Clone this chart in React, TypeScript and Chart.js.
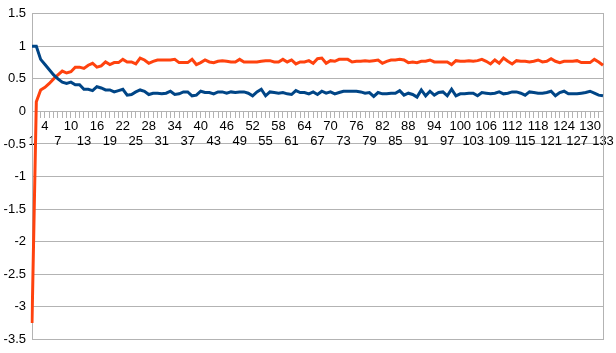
import React, { useEffect, useRef } from "react";
import { Chart, registerables } from "chart.js";

Chart.register(...registerables);

const categories: string[] = Array.from({ length: 133 }, (_, i) => String(i + 1));

const seriesBlue: number[] = [
  1.00, 1.00, 0.80, 0.72, 0.64, 0.56, 0.50, 0.45, 0.43, 0.45,
  0.41, 0.41, 0.34, 0.34, 0.32, 0.38, 0.36, 0.33, 0.33, 0.30,
  0.32, 0.34, 0.25, 0.26, 0.30, 0.33, 0.31, 0.26, 0.28, 0.28,
  0.27, 0.28, 0.31, 0.26, 0.27, 0.30, 0.30, 0.24, 0.25, 0.31,
  0.29, 0.29, 0.27, 0.30, 0.30, 0.28, 0.30, 0.29, 0.30, 0.30,
  0.28, 0.24, 0.30, 0.34, 0.24, 0.30, 0.29, 0.28, 0.29, 0.27,
  0.26, 0.32, 0.29, 0.29, 0.27, 0.30, 0.26, 0.31, 0.28, 0.30,
  0.27, 0.29, 0.31, 0.31, 0.31, 0.31, 0.30, 0.28, 0.29, 0.23,
  0.29, 0.27, 0.27, 0.28, 0.28, 0.32, 0.25, 0.28, 0.26, 0.22,
  0.33, 0.24, 0.31, 0.25, 0.29, 0.30, 0.24, 0.34, 0.24, 0.27,
  0.27, 0.28, 0.28, 0.24, 0.29, 0.28, 0.27, 0.28, 0.30, 0.27,
  0.28, 0.30, 0.30, 0.28, 0.25, 0.30, 0.29, 0.28, 0.28, 0.29,
  0.31, 0.24, 0.29, 0.31, 0.27, 0.27, 0.27, 0.28, 0.29, 0.31,
  0.28, 0.25, 0.24,
];

const seriesOrange: number[] = [
  -3.25, 0.15, 0.33, 0.37, 0.43, 0.50, 0.56, 0.62, 0.59, 0.61,
  0.68, 0.68, 0.66, 0.71, 0.74, 0.68, 0.70, 0.76, 0.72, 0.75,
  0.75, 0.80, 0.76, 0.76, 0.73, 0.82, 0.79, 0.74, 0.77, 0.79,
  0.79, 0.79, 0.79, 0.80, 0.75, 0.75, 0.75, 0.80, 0.72, 0.75,
  0.79, 0.76, 0.75, 0.77, 0.78, 0.77, 0.76, 0.76, 0.80, 0.76,
  0.76, 0.76, 0.76, 0.77, 0.78, 0.78, 0.76, 0.76, 0.80, 0.76,
  0.79, 0.73, 0.76, 0.76, 0.78, 0.74, 0.81, 0.82, 0.74, 0.78,
  0.77, 0.80, 0.80, 0.80, 0.76, 0.77, 0.77, 0.78, 0.77, 0.78,
  0.79, 0.74, 0.77, 0.79, 0.79, 0.80, 0.79, 0.75, 0.76, 0.75,
  0.77, 0.77, 0.79, 0.76, 0.76, 0.76, 0.76, 0.72, 0.78, 0.77,
  0.77, 0.78, 0.77, 0.78, 0.80, 0.77, 0.73, 0.79, 0.74, 0.82,
  0.77, 0.73, 0.78, 0.77, 0.77, 0.76, 0.77, 0.79, 0.76, 0.77,
  0.81, 0.77, 0.75, 0.77, 0.77, 0.77, 0.78, 0.75, 0.75, 0.75,
  0.80, 0.76, 0.71,
];

const yMin = -3.5;
const yMax = 1.5;
const yStep = 0.5;

const GRID = "#b3b3b3";
const FONT = { family: "'Liberation Sans', Arial, sans-serif", size: 13 };

export default function App() {
  const ref = useRef<HTMLCanvasElement | null>(null);

  useEffect(() => {
    document.body.style.margin = "0";
    const canvas = ref.current;
    if (!canvas) return;
    const chart = new Chart(canvas, {
      type: "line",
      data: {
        labels: categories,
        datasets: [
          {
            label: "Series 1",
            data: seriesBlue,
            borderColor: "#004586",
            backgroundColor: "#004586",
            borderWidth: 3,
            pointRadius: 0,
            tension: 0,
          },
          {
            label: "Series 2",
            data: seriesOrange,
            borderColor: "#ff420e",
            backgroundColor: "#ff420e",
            borderWidth: 3,
            pointRadius: 0,
            tension: 0,
          },
        ],
      },
      options: {
        animation: false,
        responsive: false,
        maintainAspectRatio: false,
        layout: { padding: { left: 0, top: 11, right: 13, bottom: 12 } },
        plugins: { legend: { display: false }, tooltip: { enabled: false } },
        scales: {
          x: {
            type: "category",
            position: { y: 0 } as any,
            offset: false,
            z: 1,
            grid: {
              display: true,
              drawOnChartArea: false,
              drawTicks: true,
              tickLength: 6,
              color: GRID,
            },
            border: { display: true, color: GRID },
            ticks: {
              autoSkip: false,
              maxRotation: 0,
              minRotation: 0,
              padding: 1,
              color: "#000",
              font: FONT,
              callback: (_v: any, idx: number) => {
                if (idx % 3 !== 0) return "";
                const lab = categories[idx];
                return (idx / 3) % 2 === 0 ? ["", lab] : lab;
              },
            },
          },
          y: {
            min: yMin,
            max: yMax,
            position: "left",
            grid: { color: GRID, drawTicks: false },
            border: { display: true, color: GRID },
            ticks: {
              stepSize: yStep,
              padding: 6,
              color: "#000",
              font: FONT,
              callback: (v: any) => String(Number(v)),
            },
            afterFit: (s: any) => {
              s.width = 32;
            },
          },
          yR: {
            min: yMin,
            max: yMax,
            position: "right",
            grid: { display: false },
            border: { display: true, color: GRID },
            ticks: { display: false },
            afterFit: (s: any) => {
              s.width = 0;
            },
          },
        },
      },
    });
    return () => chart.destroy();
  }, []);

  return (
    <div style={{ position: "absolute", left: 0, top: 0, width: 616, height: 353, background: "#fff" }}>
      <canvas ref={ref} width={616} height={353} style={{ width: 616, height: 353 }} />
    </div>
  );
}
